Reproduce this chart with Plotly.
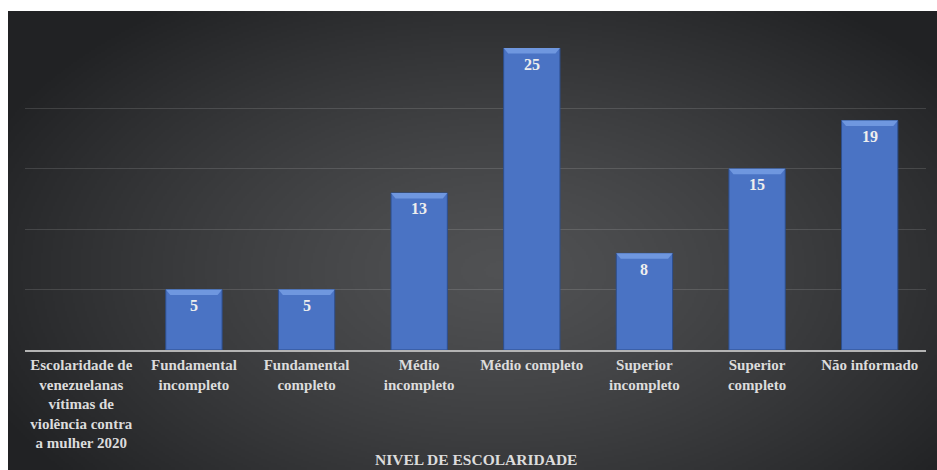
import base64
import struct
import zlib

import numpy as np
import plotly.graph_objects as go

# Education level of Venezuelan women who were victims of violence (2020)
categories = [
    "Escolaridade de<br>venezuelanas<br>vítimas de<br>violência contra<br>a mulher 2020",
    "Fundamental<br>incompleto",
    "Fundamental<br>completo",
    "Médio<br>incompleto",
    "Médio completo",
    "Superior<br>incompleto",
    "Superior<br>completo",
    "Não informado",
]
values = [None, 5, 5, 13, 25, 8, 15, 19]
y_ticks = [0, 5, 10, 15, 20, 25]
axis_title = "NIVEL DE ESCOLARIDADE"

W, H = 937, 470
M_L, M_R, M_T, M_B = 25, 11, 48, 120
PW, PH = W - M_L - M_R, H - M_T - M_B

# chart frame (dark panel) in page pixels
FX0, FY0, FX1, FY1 = 8, 11, 937, 470


def png_data_uri(arr):
    h, w, _ = arr.shape
    raw = b"".join(b"\x00" + arr[r].tobytes() for r in range(h))

    def chunk(tag, data):
        c = struct.pack(">I", len(data)) + tag + data
        return c + struct.pack(">I", zlib.crc32(tag + data) & 0xFFFFFFFF)

    png = b"\x89PNG\r\n\x1a\n"
    png += chunk(b"IHDR", struct.pack(">IIBBBBB", w, h, 8, 2, 0, 0, 0))
    png += chunk(b"IDAT", zlib.compress(raw, 9))
    png += chunk(b"IEND", b"")
    return "data:image/png;base64," + base64.b64encode(png).decode()


# radial dark-grey gradient for the panel
gw, gh = (FX1 - FX0) // 2, (FY1 - FY0) // 2
xs = np.linspace(FX0, FX1, gw)
ys = np.linspace(FY0, FY1, gh)
X, Y = np.meshgrid(xs, ys)
d = np.sqrt(((X - 500) / 560) ** 2 + ((Y - 270) / 330) ** 2)
t = np.clip(d, 0, 1) ** 1.3
center = np.array([80, 81, 83], float)
edge = np.array([33, 34, 36], float)
img = (center[None, None, :] * (1 - t[..., None]) + edge[None, None, :] * t[..., None])
img = img.round().astype(np.uint8)
bg_uri = png_data_uri(img)

px_to_paper_x = lambda px: (px - M_L) / PW
px_to_paper_y = lambda py: (H - M_B - py) / PH

serif = "Liberation Serif, Times New Roman, serif"
text_col = "#dcdcdc"

fig = go.Figure()
fig.add_trace(
    go.Bar(
        x=categories,
        y=values,
        width=0.5,
        marker=dict(color="#4a73c4", line=dict(color="#2d4f8e", width=1)),
        hoverinfo="skip",
    )
)

# value labels inside the top of each bar
annotations = []
for c, v in zip(categories, values):
    if v is None:
        continue
    annotations.append(
        dict(
            x=c, y=v, xref="x", yref="y", text=f"<b>{v}</b>", showarrow=False,
            yanchor="middle", yshift=-16,
            font=dict(family=serif, size=16, color="#eeeeee"),
        )
    )

# bevel highlight along the top edge of each bar
shapes = []
for i, v in enumerate(values):
    if v is None:
        continue
    h = 0.45
    x0, x1 = i - 0.25, i + 0.25
    shapes.append(
        dict(
            type="path", xref="x", yref="y",
            path=f"M {x0},{v} L {x1},{v} L {x1 - 0.04},{v - h} L {x0 + 0.04},{v - h} Z",
            fillcolor="#6f97df", line=dict(width=0), layer="above",
        )
    )

annotations.append(
    dict(
        x=0.5, y=px_to_paper_y(459), xref="paper", yref="paper",
        text=f"<b>{axis_title}</b>", showarrow=False, yanchor="middle", xanchor="center",
        font=dict(family=serif, size=15.5, color=text_col),
    )
)

tick_text = [f"<b>{c}</b>" for c in categories]

fig.update_layout(
    width=W, height=H,
    margin=dict(l=M_L, r=M_R, t=M_T, b=M_B, pad=0),
    paper_bgcolor="white",
    plot_bgcolor="rgba(0,0,0,0)",
    showlegend=False,
    bargap=0.5,
    annotations=annotations,
    shapes=shapes,
    images=[
        dict(
            source=bg_uri, xref="paper", yref="paper",
            x=px_to_paper_x(FX0), y=px_to_paper_y(FY0),
            sizex=(FX1 - FX0) / PW, sizey=(FY1 - FY0) / PH,
            xanchor="left", yanchor="top", sizing="stretch", layer="below",
        )
    ],
    xaxis=dict(
        type="category",
        tickmode="array", tickvals=categories, ticktext=tick_text,
        showgrid=False,
        showline=True, linecolor="#b4b4b4", linewidth=2,
        ticks="",
        tickfont=dict(family=serif, size=15, color=text_col),
        fixedrange=True,
    ),
    yaxis=dict(
        range=[0, 25],
        tickvals=y_ticks,
        showticklabels=False,
        showgrid=True, gridcolor="rgba(255,255,255,0.13)", gridwidth=1,
        zeroline=False,
        fixedrange=True,
    ),
)

fig.write_html("out.html", config={"displayModeBar": False})
